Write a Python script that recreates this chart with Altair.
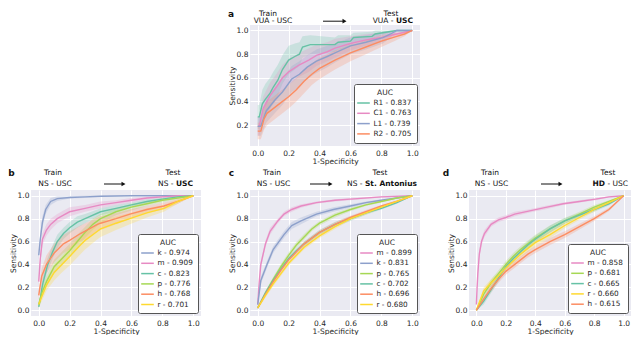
import altair as alt
import pandas as pd

FONT = "DejaVu Sans"
INK = "#262626"

# ---------------- panel a : VUA - USC -> VUA - USC ----------------
A_NAMES = ["R1", "C1", "L1", "R2"]
A_AUC = [0.837, 0.763, 0.739, 0.705]
A_COLORS = ["#66c2a5", "#e78ac3", "#8da0cb", "#fc8d62"]
A_R1_FPR = [0, 0.01, 0.03, 0.05, 0.08, 0.10, 0.13, 0.16, 0.20, 0.24, 0.27, 0.29, 0.34, 0.50, 0.52, 0.60, 0.62, 0.74, 0.76, 0.90, 1.0]
A_R1_TPR = [0.27, 0.27, 0.38, 0.42, 0.47, 0.52, 0.58, 0.67, 0.75, 0.78, 0.80, 0.86, 0.88, 0.88, 0.90, 0.91, 0.94, 0.95, 0.97, 1.0, 1.0]
A_R1_CI = [0.10, 0.10, 0.12, 0.13, 0.13, 0.13, 0.13, 0.12, 0.12, 0.11, 0.10, 0.09, 0.08, 0.06, 0.06, 0.05, 0.04, 0.04, 0.03, 0.0, 0.0]
A_C1_FPR = [0, 0.01, 0.035, 0.08, 0.12, 0.16, 0.20, 0.27, 0.33, 0.38, 0.45, 0.50, 0.60, 0.70, 0.80, 0.90, 1.0]
A_C1_TPR = [0.19, 0.19, 0.34, 0.45, 0.52, 0.60, 0.65, 0.71, 0.75, 0.79, 0.82, 0.85, 0.89, 0.92, 0.94, 0.97, 1.0]
A_C1_CI = [0.08, 0.08, 0.10, 0.11, 0.11, 0.11, 0.11, 0.10, 0.10, 0.09, 0.08, 0.08, 0.06, 0.05, 0.04, 0.02, 0.0]
A_L1_FPR = [0, 0.02, 0.055, 0.11, 0.16, 0.22, 0.27, 0.32, 0.38, 0.45, 0.50, 0.60, 0.70, 0.81, 0.86, 0.90, 1.0]
A_L1_TPR = [0.19, 0.19, 0.32, 0.41, 0.48, 0.59, 0.63, 0.69, 0.74, 0.78, 0.81, 0.87, 0.90, 0.94, 0.97, 1.0, 1.0]
A_L1_CI = [0.08, 0.08, 0.10, 0.11, 0.11, 0.11, 0.11, 0.10, 0.10, 0.09, 0.08, 0.07, 0.06, 0.05, 0.03, 0.01, 0.0]
A_R2_FPR = [0, 0.02, 0.04, 0.06, 0.10, 0.15, 0.20, 0.25, 0.30, 0.35, 0.40, 0.50, 0.60, 0.70, 0.80, 0.90, 0.95, 1.0]
A_R2_TPR = [0.15, 0.15, 0.25, 0.30, 0.34, 0.39, 0.44, 0.50, 0.57, 0.63, 0.68, 0.75, 0.81, 0.86, 0.91, 0.95, 0.97, 1.0]
A_R2_CI = [0.07, 0.07, 0.09, 0.10, 0.10, 0.10, 0.10, 0.10, 0.10, 0.09, 0.09, 0.08, 0.07, 0.06, 0.05, 0.03, 0.02, 0.0]

# ---------------- panel b : NS - USC -> NS - USC ----------------
B_NAMES = ["k", "m", "c", "p", "h", "r"]
B_AUC = [0.974, 0.909, 0.823, 0.776, 0.768, 0.701]
B_COLORS = ["#8da0cb", "#e78ac3", "#66c2a5", "#a6d854", "#fc8d62", "#ffd92f"]
B_K_FPR = [0, 0.01, 0.024, 0.045, 0.077, 0.12, 0.20, 0.30, 0.40, 0.60, 0.80, 1.0]
B_K_TPR = [0.48, 0.62, 0.77, 0.88, 0.95, 0.975, 0.985, 0.99, 0.995, 1.0, 1.0, 1.0]
B_K_CI = [0.04, 0.05, 0.05, 0.04, 0.03, 0.02, 0.01, 0.01, 0.005, 0.0, 0.0, 0.0]
B_M_FPR = [0, 0.01, 0.024, 0.05, 0.077, 0.12, 0.16, 0.20, 0.30, 0.40, 0.50, 0.60, 0.70, 0.80, 0.90, 1.0]
B_M_TPR = [0.25, 0.45, 0.62, 0.70, 0.75, 0.80, 0.83, 0.86, 0.89, 0.92, 0.94, 0.96, 0.98, 0.99, 1.0, 1.0]
B_M_CI = [0.04, 0.05, 0.05, 0.05, 0.05, 0.04, 0.04, 0.04, 0.03, 0.03, 0.02, 0.02, 0.01, 0.01, 0.0, 0.0]
B_C_FPR = [0, 0.01, 0.024, 0.056, 0.09, 0.12, 0.16, 0.20, 0.25, 0.30, 0.40, 0.50, 0.60, 0.70, 0.80, 0.90, 1.0]
B_C_TPR = [0.03, 0.10, 0.22, 0.39, 0.51, 0.60, 0.67, 0.72, 0.77, 0.80, 0.86, 0.89, 0.92, 0.95, 0.97, 0.99, 1.0]
B_C_CI = [0.02, 0.04, 0.05, 0.06, 0.06, 0.06, 0.05, 0.05, 0.05, 0.04, 0.03, 0.03, 0.02, 0.02, 0.01, 0.01, 0.0]
B_P_FPR = [0, 0.02, 0.05, 0.10, 0.15, 0.20, 0.25, 0.30, 0.35, 0.40, 0.50, 0.60, 0.70, 0.80, 0.90, 1.0]
B_P_TPR = [0.05, 0.15, 0.25, 0.38, 0.45, 0.52, 0.60, 0.68, 0.75, 0.80, 0.86, 0.90, 0.93, 0.96, 0.98, 1.0]
B_P_CI = [0.02, 0.04, 0.05, 0.06, 0.06, 0.06, 0.06, 0.05, 0.05, 0.04, 0.03, 0.03, 0.02, 0.02, 0.01, 0.0]
B_H_FPR = [0, 0.01, 0.02, 0.05, 0.10, 0.16, 0.20, 0.27, 0.30, 0.38, 0.40, 0.50, 0.59, 0.70, 0.81, 0.90, 1.0]
B_H_TPR = [0.13, 0.22, 0.30, 0.40, 0.50, 0.58, 0.61, 0.67, 0.69, 0.75, 0.76, 0.80, 0.84, 0.88, 0.91, 0.95, 1.0]
B_H_CI = [0.04, 0.06, 0.07, 0.08, 0.08, 0.08, 0.08, 0.07, 0.07, 0.06, 0.06, 0.05, 0.04, 0.03, 0.03, 0.02, 0.0]
B_R_FPR = [0, 0.02, 0.05, 0.10, 0.15, 0.20, 0.27, 0.30, 0.38, 0.40, 0.50, 0.59, 0.70, 0.81, 0.90, 1.0]
B_R_TPR = [0.05, 0.12, 0.22, 0.33, 0.40, 0.47, 0.57, 0.61, 0.69, 0.71, 0.76, 0.80, 0.85, 0.89, 0.95, 1.0]
B_R_CI = [0.03, 0.04, 0.05, 0.07, 0.07, 0.08, 0.08, 0.08, 0.07, 0.07, 0.06, 0.05, 0.04, 0.03, 0.02, 0.0]

# ---------------- panel c : NS - USC -> NS - St. Antonius ----------------
C_NAMES = ["m", "k", "p", "c", "h", "r"]
C_AUC = [0.899, 0.831, 0.765, 0.702, 0.696, 0.680]
C_COLORS = ["#e78ac3", "#8da0cb", "#a6d854", "#66c2a5", "#fc8d62", "#ffd92f"]
C_M_FPR = [0, 0.01, 0.02, 0.05, 0.08, 0.13, 0.17, 0.22, 0.28, 0.38, 0.50, 0.60, 0.80, 1.0]
C_M_TPR = [0.05, 0.25, 0.40, 0.58, 0.69, 0.78, 0.84, 0.88, 0.91, 0.94, 0.96, 0.97, 0.99, 1.0]
C_M_CI = [0.02, 0.03, 0.03, 0.03, 0.03, 0.02, 0.02, 0.02, 0.015, 0.01, 0.01, 0.01, 0.005, 0.0]
C_K_FPR = [0, 0.02, 0.06, 0.10, 0.17, 0.22, 0.28, 0.38, 0.49, 0.60, 0.70, 0.80, 0.90, 1.0]
C_K_TPR = [0.05, 0.26, 0.40, 0.53, 0.66, 0.74, 0.78, 0.84, 0.88, 0.91, 0.94, 0.96, 0.98, 1.0]
C_K_CI = [0.02, 0.03, 0.03, 0.03, 0.03, 0.03, 0.03, 0.02, 0.02, 0.015, 0.01, 0.01, 0.005, 0.0]
C_FPR = [0, 0.05, 0.10, 0.15, 0.20, 0.25, 0.30, 0.35, 0.40, 0.50, 0.60, 0.70, 0.80, 0.90, 1.0]
C_P_TPR = [0.02, 0.15, 0.27, 0.38, 0.48, 0.57, 0.64, 0.71, 0.76, 0.83, 0.88, 0.92, 0.95, 0.98, 1.0]
C_P_CI = [0.01, 0.02, 0.02, 0.025, 0.025, 0.025, 0.025, 0.02, 0.02, 0.02, 0.015, 0.01, 0.01, 0.005, 0.0]
C_C_TPR = [0.02, 0.15, 0.26, 0.36, 0.45, 0.52, 0.58, 0.63, 0.68, 0.75, 0.80, 0.85, 0.89, 0.94, 1.0]
C_C_CI = [0.01, 0.02, 0.02, 0.02, 0.02, 0.02, 0.02, 0.02, 0.02, 0.02, 0.02, 0.015, 0.01, 0.01, 0.0]
C_H_TPR = [0.02, 0.14, 0.25, 0.35, 0.44, 0.51, 0.58, 0.63, 0.68, 0.75, 0.81, 0.86, 0.91, 0.95, 1.0]
C_H_CI = [0.01, 0.02, 0.02, 0.02, 0.02, 0.02, 0.02, 0.02, 0.02, 0.02, 0.015, 0.015, 0.01, 0.01, 0.0]
C_R_TPR = [0.02, 0.13, 0.23, 0.32, 0.41, 0.48, 0.55, 0.60, 0.65, 0.73, 0.80, 0.85, 0.90, 0.95, 1.0]
C_R_CI = [0.01, 0.02, 0.02, 0.02, 0.02, 0.02, 0.02, 0.02, 0.02, 0.02, 0.015, 0.015, 0.01, 0.01, 0.0]

# ---------------- panel d : NS - USC -> HD - USC ----------------
D_NAMES = ["m", "p", "c", "r", "h"]
D_AUC = [0.858, 0.681, 0.665, 0.660, 0.615]
D_COLORS = ["#e78ac3", "#a6d854", "#66c2a5", "#ffd92f", "#fc8d62"]
D_M_FPR = [0, 0.005, 0.01, 0.02, 0.035, 0.055, 0.10, 0.15, 0.20, 0.26, 0.37, 0.48, 0.59, 0.70, 0.81, 0.90, 1.0]
D_M_TPR = [0.05, 0.20, 0.32, 0.49, 0.60, 0.67, 0.75, 0.79, 0.81, 0.84, 0.87, 0.90, 0.93, 0.95, 0.97, 0.99, 1.0]
D_M_CI = [0.02, 0.03, 0.03, 0.03, 0.03, 0.03, 0.02, 0.02, 0.02, 0.02, 0.015, 0.015, 0.01, 0.01, 0.01, 0.005, 0.0]
D_FPR = [0, 0.05, 0.10, 0.15, 0.20, 0.25, 0.30, 0.35, 0.40, 0.50, 0.60, 0.70, 0.80, 0.90, 1.0]
D_P_TPR = [0.0, 0.14, 0.24, 0.32, 0.40, 0.47, 0.53, 0.58, 0.63, 0.71, 0.78, 0.84, 0.90, 0.95, 1.0]
D_P_CI = [0.01, 0.03, 0.03, 0.03, 0.03, 0.03, 0.03, 0.03, 0.03, 0.03, 0.025, 0.02, 0.02, 0.01, 0.0]
D_C_TPR = [0.0, 0.08, 0.18, 0.28, 0.38, 0.45, 0.51, 0.57, 0.62, 0.71, 0.78, 0.83, 0.88, 0.93, 1.0]
D_C_CI = [0.01, 0.03, 0.03, 0.03, 0.03, 0.03, 0.03, 0.03, 0.03, 0.03, 0.025, 0.02, 0.02, 0.015, 0.0]
D_R_TPR = [0.0, 0.17, 0.24, 0.30, 0.37, 0.43, 0.49, 0.54, 0.59, 0.66, 0.74, 0.81, 0.88, 0.94, 1.0]
D_R_CI = [0.01, 0.03, 0.03, 0.03, 0.03, 0.03, 0.03, 0.03, 0.03, 0.03, 0.025, 0.02, 0.02, 0.01, 0.0]
D_H_TPR = [0.0, 0.10, 0.19, 0.27, 0.34, 0.39, 0.44, 0.49, 0.53, 0.60, 0.66, 0.73, 0.80, 0.88, 1.0]
D_H_CI = [0.01, 0.02, 0.03, 0.03, 0.03, 0.03, 0.03, 0.03, 0.03, 0.03, 0.03, 0.025, 0.02, 0.015, 0.0]

X_TICKS = [0.0, 0.2, 0.4, 0.6, 0.8, 1.0]
Y_TICKS = [0.0, 0.2, 0.4, 0.6, 0.8, 1.0]
Y_TICKS_A = [0.2, 0.4, 0.6, 0.8, 1.0]


def roc_frame(names, aucs, fprs, tprs, cis):
    rows = []
    labels = []
    for n, a, xs, ys, cs in zip(names, aucs, fprs, tprs, cis):
        lab = f"{n} - {a:.3f}"
        labels.append(lab)
        for x, y, c in zip(xs, ys, cs):
            rows.append({"label": lab, "fpr": x, "tpr": y,
                         "lo": max(y - c, 0.0), "hi": min(y + c, 1.0)})
    return pd.DataFrame(rows), labels


ONE = pd.DataFrame({"k": [0]})


def txt(s, x, y, align="center", weight="normal", size=7.5):
    return alt.Chart(pd.DataFrame({"t": [s]})).mark_text(
        align=align, baseline="middle", font=FONT, fontSize=size,
        fontWeight=weight, color="#111111"
    ).encode(text="t:N", x=alt.value(x), y=alt.value(y))


def arrow(x1, x2, y):
    shaft = alt.Chart(ONE).mark_rule(color="#111111", strokeWidth=1).encode(
        x=alt.value(x1), x2=alt.value(x2 - 3), y=alt.value(y))
    head = alt.Chart(ONE).mark_point(shape="triangle-right", filled=True, size=22,
                                     color="#111111", opacity=1).encode(
        x=alt.value(x2 - 2.5), y=alt.value(y))
    return [shaft, head]


def panel(df, labels, colors, ydom, yvals, w, h, annos):
    xsc = alt.Scale(domain=[-0.05, 1.05], nice=False, zero=False)
    ysc = alt.Scale(domain=ydom, nice=False, zero=False)
    csc = alt.Scale(domain=labels, range=colors)
    xax = alt.Axis(values=X_TICKS, format=".1f", title="1-Specificity")
    yax = alt.Axis(values=yvals, format=".1f", title="Sensitivity")
    band = alt.Chart(df).mark_area(opacity=0.25).encode(
        x=alt.X("fpr:Q", scale=xsc, axis=xax),
        y=alt.Y("lo:Q", scale=ysc, axis=yax),
        y2="hi:Q",
        color=alt.Color("label:N", scale=csc),
    )
    line = alt.Chart(df).mark_line(strokeWidth=1.4).encode(
        x=alt.X("fpr:Q", scale=xsc, axis=xax),
        y=alt.Y("tpr:Q", scale=ysc, axis=yax),
        color=alt.Color("label:N", scale=csc, legend=alt.Legend(title="AUC", orient="bottom-right")),
    )
    return alt.layer(band, line, *annos).properties(width=w, height=h)


def spacer(w, h):
    return alt.Chart(ONE).mark_point(opacity=0).encode(
        x=alt.value(0), y=alt.value(0)
    ).properties(width=w, height=h,
                 view=alt.ViewBackground(fill="transparent", stroke="transparent"))


dfa, la = roc_frame(A_NAMES, A_AUC, [A_R1_FPR, A_C1_FPR, A_L1_FPR, A_R2_FPR],
                    [A_R1_TPR, A_C1_TPR, A_L1_TPR, A_R2_TPR], [A_R1_CI, A_C1_CI, A_L1_CI, A_R2_CI])
dfb, lb = roc_frame(B_NAMES, B_AUC, [B_K_FPR, B_M_FPR, B_C_FPR, B_P_FPR, B_H_FPR, B_R_FPR],
                    [B_K_TPR, B_M_TPR, B_C_TPR, B_P_TPR, B_H_TPR, B_R_TPR],
                    [B_K_CI, B_M_CI, B_C_CI, B_P_CI, B_H_CI, B_R_CI])
dfc, lc = roc_frame(C_NAMES, C_AUC, [C_M_FPR, C_K_FPR, C_FPR, C_FPR, C_FPR, C_FPR],
                    [C_M_TPR, C_K_TPR, C_P_TPR, C_C_TPR, C_H_TPR, C_R_TPR],
                    [C_M_CI, C_K_CI, C_P_CI, C_C_CI, C_H_CI, C_R_CI])
dfd, ld = roc_frame(D_NAMES, D_AUC, [D_M_FPR, D_FPR, D_FPR, D_FPR, D_FPR],
                    [D_M_TPR, D_P_TPR, D_C_TPR, D_R_TPR, D_H_TPR],
                    [D_M_CI, D_P_CI, D_C_CI, D_R_CI, D_H_CI])

L1, L2 = -17, -6
A1, A2 = -11.5, -3.8
ann_a = [txt("a", -19, A1, weight="bold", size=9), txt("Train", 18, A1),
         txt("VUA - USC", 23, A2), *arrow(73, 97, A2), txt("Test", 141, A1),
         txt("VUA -", 143.5, A2, align="right"), txt("USC", 163, A2, align="right", weight="bold")]
ann_b = [txt("b", -19.5, L1, weight="bold", size=9), txt("Train", 22, L1),
         txt("NS - USC", 24, L2), *arrow(73, 95, L2), txt("Test", 142, L1),
         txt("NS -", 142.5, L2, align="right"), txt("USC", 162, L2, align="right", weight="bold")]
ann_c = [txt("c", -18.5, L1, weight="bold", size=9), txt("Train", 22, L1),
         txt("NS - USC", 23.5, L2), *arrow(60, 83, L2), txt("Test", 130, L1),
         txt("NS -", 112.5, L2, align="right"),
         txt("St. Antonius", 167, L2, align="right", weight="bold")]
ann_d = [txt("d", -23, L1, weight="bold", size=9), txt("Train", 21, L1),
         txt("NS - USC", 22.5, L2), *arrow(72, 94, L2), txt("Test", 139, L1),
         txt("HD", 136, L2, align="right", weight="bold"), txt("- USC", 159, L2, align="right")]

pa = panel(dfa, la, A_COLORS, [0.024, 1.046], Y_TICKS_A, 170, 121, ann_a)
pb = panel(dfb, lb, B_COLORS, [-0.05, 1.05], Y_TICKS, 170, 126, ann_b)
pc = panel(dfc, lc, C_COLORS, [-0.05, 1.05], Y_TICKS, 170, 126, ann_c)
pd_ = panel(dfd, ld, D_COLORS, [-0.05, 1.05], Y_TICKS, 162, 126, ann_d)

chart = alt.concat(
    spacer(170, 121), pa, spacer(162, 121), pb, pc, pd_,
    columns=3, spacing={"row": 44, "column": 49}, bounds="flush",
).resolve_scale(
    color="independent"
).properties(
    padding={"left": 0, "top": 1, "right": 0, "bottom": 0}
).configure_view(
    fill="#eaeaf2", stroke="#eaeaf2", strokeWidth=0
).configure_axis(
    domain=False, ticks=False, grid=True, gridColor="#ffffff", gridWidth=1,
    labelFont=FONT, labelFontSize=7.5, labelColor=INK, labelFlush=False,
    titleFont=FONT, titleFontSize=7.5, titleFontWeight="normal", titleColor=INK,
).configure_axisX(
    labelPadding=3, titlePadding=1
).configure_axisY(
    labelPadding=2, titlePadding=0, minExtent=14, maxExtent=14
).configure_legend(
    offset=3, fillColor="#ffffff", strokeColor="#555555",
    cornerRadius=2, padding=5, titleAnchor="middle", titleFont=FONT, titleFontSize=7.5,
    titleFontWeight="normal", titleColor=INK, titlePadding=2,
    labelFont=FONT, labelFontSize=7.3, labelColor=INK, labelOffset=5.5,
    symbolType="M-1.8,0H1.8", symbolSize=49, symbolStrokeWidth=1.5, symbolOpacity=1,
    rowPadding=2.3,
)

chart.save("out.html", embed_options={"renderer": "svg", "actions": False})
